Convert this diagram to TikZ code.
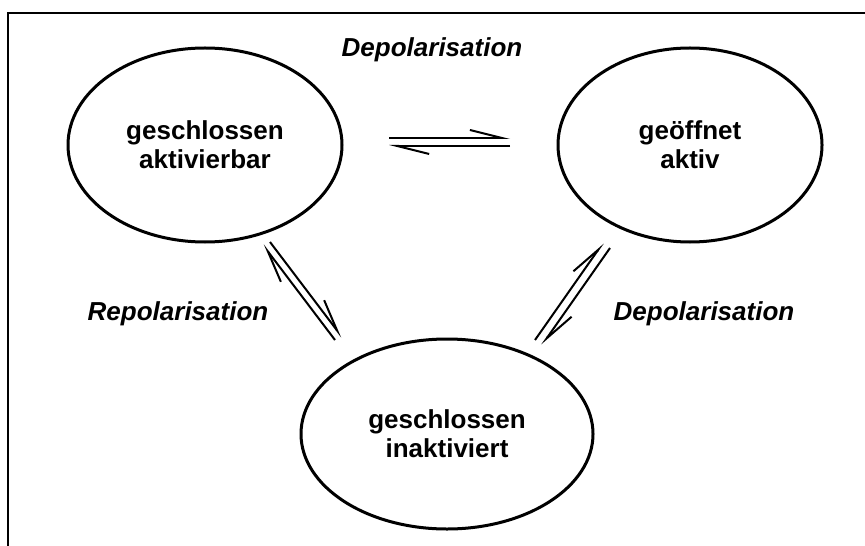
\documentclass[tikz,border=0pt]{standalone}
\usepackage{fontspec}
\setmainfont{Liberation Sans}
\usetikzlibrary{shapes.geometric,arrows.meta}
\begin{document}
\begin{tikzpicture}[x=0.5pt,y=-0.5pt,
    state/.style={ellipse,draw,line width=1.5pt,align=center,inner sep=0pt,
      font=\fontsize{13}{14.5}\selectfont\bfseries},
    harp/.style={line width=1pt,-{Straight Barb[left,length=16pt,width=8pt,line width=1pt]}},
    lbl/.style={anchor=base,font=\fontsize{13}{14.5}\selectfont\bfseries\itshape}]
    % Frame
    \useasboundingbox (0,0) rectangle (865,545);
    \draw[line width=0.75pt] (8,560) -- (8,13) -- (880,13);

    % States
    \node[state,minimum width=137pt,minimum height=97pt] (ga) at (205,145) {geschlossen\\aktivierbar};
    \node[state,minimum width=132pt,minimum height=97pt] (go) at (690,145) {geöffnet\\aktiv};
    \node[state,minimum width=146pt,minimum height=95pt] (gi) at (447,434) {geschlossen\\inaktiviert};

    % Arrow ends
    \coordinate (h1) at (389,138); \coordinate (h2) at (510,138);
    \coordinate (h3) at (389,146); \coordinate (h4) at (510,146);
    \coordinate (l1) at (263,245); \coordinate (l2) at (335,340);
    \coordinate (l3) at (270,242); \coordinate (l4) at (342,337);
    \coordinate (r1) at (603,243); \coordinate (r2) at (535,340);
    \coordinate (r3) at (610,248); \coordinate (r4) at (542,345);

    % Equilibria
    \draw[harp] (h1) -- (h2);
    \draw[harp] (h4) -- (h3);
    \draw[harp] (l2) -- (l1);
    \draw[harp] (l3) -- (l4);
    \draw[harp] (r2) -- (r1);
    \draw[harp] (r3) -- (r4);

    % Labels
    \node[lbl] (dtop) at (432,57) {Depolarisation};
    \node[lbl] (rep) at (178,320) {Repolarisation};
    \node[lbl] (dright) at (704,320) {Depolarisation};
\end{tikzpicture}
\end{document}
